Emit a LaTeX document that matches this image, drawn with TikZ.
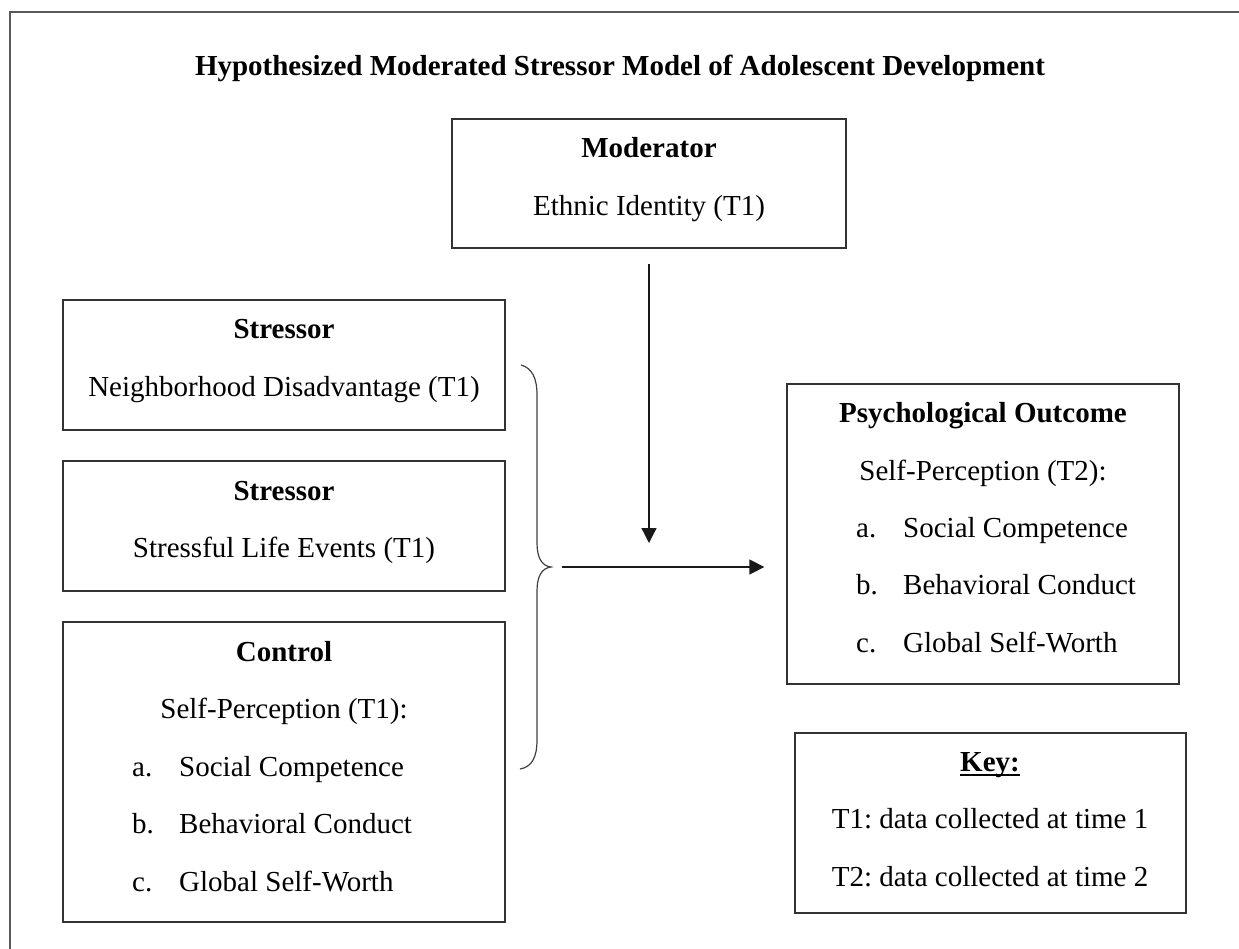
\documentclass[tikz,border=0pt]{standalone}
\usepackage{fontspec}
\setmainfont{Liberation Serif}
\usetikzlibrary{arrows.meta}
\frenchspacing
\newcommand\keyul[1]{\setbox0\hbox{#1}\rlap{\rule[-4.5pt]{\wd0}{1.6pt}}\box0}
\tikzset{
  box/.style={draw=black!80, line width=1.3pt, inner sep=0pt, rectangle},
  txt/.style={anchor=base, inner sep=0pt, font=\fontsize{29}{34}\selectfont\frenchspacing},
  item/.style={anchor=base west, inner sep=0pt, font=\fontsize{29}{34}\selectfont\frenchspacing},
  arr/.style={draw=black!90, line width=1.3pt, -{Triangle[length=15pt,width=15pt]}},
  bracel/.style={draw=black!75, line width=1.2pt}
}
\begin{document}
\begin{tikzpicture}[x=1pt,y=-1pt]
\useasboundingbox (0,0) rectangle (1239,949);
\clip (0,0) rectangle (1239,949);
\fill[white] (0,0) rectangle (1239,949);
% outer frame
\draw[draw=black!65, line width=2pt] (10,12) rectangle (1260,980);
% title
\node[txt] (title) at (620,76) {\bfseries Hypothesized Moderated Stressor Model of Adolescent Development};
% boxes
\node[box, minimum width=394pt, minimum height=129pt] (mod) at (649,183.5) {};
\node[box, minimum width=442pt, minimum height=130pt] (s1) at (284,365) {};
\node[box, minimum width=442pt, minimum height=130pt] (s2) at (284,526) {};
\node[box, minimum width=442pt, minimum height=300pt] (ctl) at (284,772) {};
\node[box, minimum width=392pt, minimum height=300pt] (psy) at (983,534) {};
\node[box, minimum width=391pt, minimum height=180pt] (key) at (990.5,823) {};
% moderator text
\node[txt] (modh) at (649,158) {\bfseries Moderator};
\node[txt] (modt) at (649,216) {Ethnic Identity (T1)};
% stressor 1
\node[txt] (s1h) at (284,339) {\bfseries Stressor};
\node[txt] (s1t) at (284,396) {Neighborhood Disadvantage (T1)};
% stressor 2
\node[txt] (s2h) at (284,500) {\bfseries Stressor};
\node[txt] (s2t) at (284,557) {Stressful Life Events (T1)};
% control
\node[txt] (ctlh) at (284,661) {\bfseries Control};
\node[txt] (ctlt) at (284,718) {Self-Perception (T1):};
\node[item] (ctla) at (132,776) {a.};
\node[item] (ctlat) at (179,776) {Social Competence};
\node[item] (ctlb) at (132,833) {b.};
\node[item] (ctlbt) at (179,833) {Behavioral Conduct};
\node[item] (ctlc) at (132,891) {c.};
\node[item] (ctlct) at (179,891) {Global Self-Worth};
% psychological outcome
\node[txt] (psyh) at (983,422) {\bfseries Psychological Outcome};
\node[txt] (psyt) at (983,480) {Self-Perception (T2):};
\node[item] (psya) at (856,537) {a.};
\node[item] (psyat) at (903,537) {Social Competence};
\node[item] (psyb) at (856,594) {b.};
\node[item] (psybt) at (903,594) {Behavioral Conduct};
\node[item] (psyc) at (856,652) {c.};
\node[item] (psyct) at (903,652) {Global Self-Worth};
% key
\node[txt] (keyh) at (990,771) {\keyul{\bfseries Key:}};
\node[txt] (key1) at (990,828) {T1: data collected at time 1};
\node[txt] (key2) at (990,886) {T2: data collected at time 2};
% brace
\coordinate (brtip) at (551,567);
\draw[bracel] (521,365) .. controls (532,368) and (537,378) .. (537,395)
  -- (537,543) .. controls (537,558) and (542,566) .. (brtip)
  .. controls (542,568) and (537,576) .. (537,591)
  -- (537,740) .. controls (537,757) and (532,767) .. (520,769);
% arrows
\coordinate (modtip) at (649,543);
\draw[arr, shorten <=15pt] (mod) -- (modtip);
\draw[arr, shorten <=11pt, shorten >=22pt] (brtip) -- (brtip -| psy.west);
\end{tikzpicture}
\end{document}
